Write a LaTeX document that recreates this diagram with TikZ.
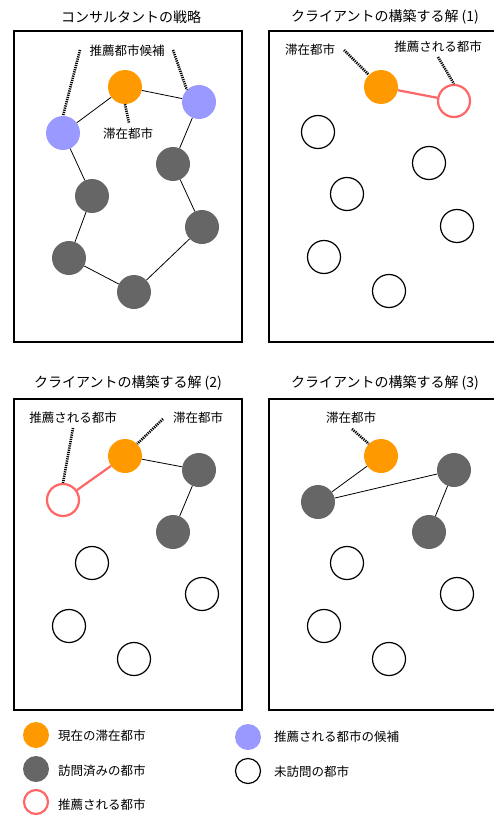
\documentclass[tikz,border=0pt]{standalone}
\usepackage{fontspec}
\setmainfont{Noto Sans CJK JP}
\definecolor{curorange}{HTML}{FF9900}
\definecolor{candblue}{HTML}{9999FF}
\definecolor{visitgray}{HTML}{666666}
\definecolor{recred}{HTML}{FF6666}
\begin{document}
\begin{tikzpicture}[x=1pt,y=-1pt,
  city/.style={circle,minimum size=34pt,inner sep=0pt},
  current/.style={city,fill=curorange},
  candidate/.style={city,fill=candblue},
  visited/.style={city,fill=visitgray},
  unvisited/.style={city,draw=black,line width=1.2pt,minimum size=33pt},
  recommended/.style={city,draw=recred,line width=2.2pt,minimum size=32pt},
  legcity/.style={minimum size=26pt},
  panel/.style={draw=black,line width=2.6pt},
  tour/.style={draw=black,line width=0.8pt},
  recline/.style={draw=recred,line width=2.2pt},
  pointer/.style={draw=black,line width=2.6pt,dash pattern=on 1.2pt off 1pt},
  ttl/.style={font=\fontsize{14}{16}\selectfont,inner sep=0pt},
  lbl/.style={font=\fontsize{12.5}{14}\selectfont,inner sep=0pt},
  legtxt/.style={font=\fontsize{12.5}{14}\selectfont,inner sep=0pt,anchor=west}]
\useasboundingbox (0,0) rectangle (494,816);

% ---------- panel 1: consultant ----------
\node[ttl] (t1) at (131,17) {コンサルタントの戦略};
\draw[panel] (14,31) rectangle (242,342);
\node[current] (a0) at (125,87) {};
\node[candidate] (a1) at (63,133) {};
\node[candidate] (a2) at (199,102) {};
\node[visited] (a3) at (92,196) {};
\node[visited] (a4) at (69,258) {};
\node[visited] (a5) at (134,292) {};
\node[visited] (a6) at (202,227) {};
\node[visited] (a7) at (173,164) {};
\draw[tour] (a0) -- (a1) (a0) -- (a2) (a1) -- (a3) -- (a4) -- (a5) -- (a6) -- (a7) -- (a2);
\node[lbl] (l1a) at (127,51) {推薦都市候補};
\node[lbl] (l1b) at (128,134) {滞在都市};
\coordinate (p1a) at (80,50);
\coordinate (p1b) at (173,50);
\coordinate (p1c) at (129,123);
\draw[pointer] (p1a) -- (a1.north);
\draw[pointer] (p1b) -- (a2.north west);
\draw[pointer] (a0.south) -- (p1c);

% ---------- panel 2: client solution (1) ----------
\node[ttl] (t2) at (385,17) {クライアントの構築する解 (1)};
\draw[panel] (269,31) rectangle (500,342);
\node[current] (b0) at (381,87) {};
\node[recommended] (b1) at (454,101) {};
\node[unvisited] (b2) at (318,132) {};
\node[unvisited] (b3) at (429,163) {};
\node[unvisited] (b4) at (347,194) {};
\node[unvisited] (b5) at (457,226) {};
\node[unvisited] (b6) at (324,257) {};
\node[unvisited] (b7) at (389,291) {};
\draw[recline] (b0) -- (b1);
\node[lbl] (l2a) at (310,50) {滞在都市};
\node[lbl] (l2b) at (438,47) {推薦される都市};
\coordinate (p2a) at (344,50);
\coordinate (p2b) at (438,57);
\draw[pointer] (p2a) -- (b0.north west);
\draw[pointer] (p2b) -- (b1.north);

% ---------- panel 3: client solution (2) ----------
\node[ttl] (t3) at (128,383) {クライアントの構築する解 (2)};
\draw[panel] (14,399) rectangle (242,710);
\node[current] (c0) at (125,456) {};
\node[recommended] (c1) at (63,500) {};
\node[visited] (c2) at (199,470) {};
\node[visited] (c3) at (173,532) {};
\node[unvisited] (c4) at (92,563) {};
\node[unvisited] (c5) at (202,594) {};
\node[unvisited] (c6) at (69,626) {};
\node[unvisited] (c7) at (134,659) {};
\draw[recline] (c0) -- (c1);
\draw[tour] (c0) -- (c2) -- (c3);
\node[lbl] (l3a) at (73,418) {推薦される都市};
\node[lbl] (l3b) at (198,418) {滞在都市};
\coordinate (p3a) at (73,428);
\coordinate (p3b) at (163,419);
\draw[pointer] (p3a) -- (c1.north);
\draw[pointer] (p3b) -- (c0.north east);

% ---------- panel 4: client solution (3) ----------
\node[ttl] (t4) at (385,383) {クライアントの構築する解 (3)};
\draw[panel] (269,399) rectangle (500,710);
\node[current] (d0) at (381,456) {};
\node[visited] (d1) at (454,470) {};
\node[visited] (d2) at (318,502) {};
\node[visited] (d3) at (429,532) {};
\node[unvisited] (d4) at (347,563) {};
\node[unvisited] (d5) at (457,594) {};
\node[unvisited] (d6) at (324,626) {};
\node[unvisited] (d7) at (389,659) {};
\draw[tour] (d0) -- (d2) -- (d1) -- (d3);
\node[lbl] (l4a) at (351,418) {滞在都市};
\coordinate (p4a) at (352,429);
\draw[pointer] (p4a) -- (d0.north west);

% ---------- legend ----------
\node[current,legcity] (k1) at (36,735) {};
\node[legtxt] (k1t) at (58,736) {現在の滞在都市};
\node[visited,legcity] (k2) at (36,769) {};
\node[legtxt] (k2t) at (58,771) {訪問済みの都市};
\node[recommended,legcity,minimum size=24pt] (k3) at (36,802) {};
\node[legtxt] (k3t) at (58,805) {推薦される都市};
\node[candidate,legcity] (k4) at (248,737) {};
\node[legtxt] (k4t) at (274,737) {推薦される都市の候補};
\node[unvisited,legcity,minimum size=25pt] (k5) at (248,771) {};
\node[legtxt] (k5t) at (274,772) {未訪問の都市};
\end{tikzpicture}
\end{document}
